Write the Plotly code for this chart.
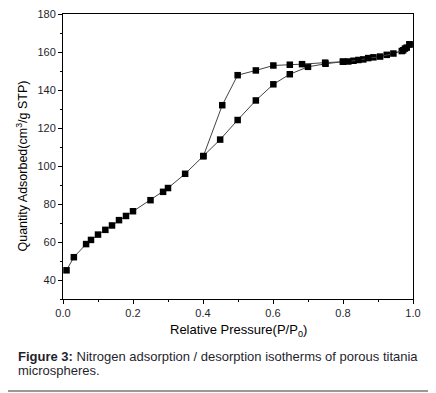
import plotly.graph_objects as go

ads_x = [0.01, 0.031, 0.066, 0.08, 0.1, 0.121, 0.14, 0.16, 0.18, 0.2, 0.25, 0.286, 0.30,
         0.349, 0.401, 0.449, 0.499, 0.551, 0.601, 0.648, 0.70, 0.75, 0.80, 0.83, 0.858,
         0.887, 0.925, 0.968, 0.977, 0.99]
ads_y = [45.1, 52.0, 58.9, 61.1, 63.9, 66.4, 68.7, 71.5, 73.7, 76.2, 82.0, 86.4, 88.4,
         95.9, 105.2, 113.9, 124.2, 134.5, 143.0, 148.3, 152.2, 153.8, 154.9, 155.4, 156.1,
         157.2, 158.5, 160.5, 161.8, 164.0]
des_x = [0.99, 0.982, 0.972, 0.944, 0.906, 0.872, 0.844, 0.815, 0.80, 0.749, 0.683, 0.648,
         0.601, 0.551, 0.499, 0.455, 0.401]
des_y = [164.0, 162.3, 160.9, 159.2, 157.6, 156.8, 155.8, 155.0, 154.9, 154.4, 153.6, 153.3,
         152.9, 150.3, 147.8, 132.0, 105.2]

x_ticks = [0.0, 0.2, 0.4, 0.6, 0.8, 1.0]
x_tick_labels = ["0.0", "0.2", "0.4", "0.6", "0.8", "1.0"]
y_ticks = [40, 60, 80, 100, 120, 140, 160, 180]

FONT = "Liberation Sans, Arial, sans-serif"
TXT = "#1f1f2e"

fig = go.Figure()
for xs, ys in [(ads_x, ads_y), (des_x, des_y)]:
    fig.add_trace(go.Scatter(
        x=xs, y=ys, mode="lines+markers",
        line=dict(color="#444444", width=1),
        marker=dict(symbol="square", size=6.5, color="black"),
        showlegend=False, cliponaxis=False,
    ))

axis_common = dict(
    showline=True, linecolor="black", linewidth=1, mirror=True, automargin=False,
    ticks="outside", ticklen=4, tickcolor="black", showgrid=False, zeroline=False,
    ticklabeloverflow="allow",
    tickfont=dict(family=FONT, size=11, color=TXT),
)
fig.update_xaxes(
    range=[0, 1], tickvals=x_ticks, ticktext=x_tick_labels,
    minor=dict(ticks="outside", ticklen=2, dtick=0.1, tickcolor="black"),
    **axis_common,
)
fig.update_yaxes(
    range=[30, 180], tickvals=y_ticks,
    minor=dict(ticks="outside", ticklen=2, dtick=10, tickcolor="black"),
    **axis_common,
)

fig.add_annotation(
    xref="paper", yref="paper", x=-0.117, y=0.465, xanchor="center", yanchor="middle",
    textangle=-90, showarrow=False,
    text="Quantity Adsorbed(cm<sup>3</sup>/g STP)",
    font=dict(family=FONT, size=12.5, color="black"),
)
fig.add_annotation(
    xref="paper", yref="paper", x=0.5, y=-0.074, xanchor="center", yanchor="top",
    showarrow=False, text="Relative Pressure(P/P<sub>0</sub>)",
    font=dict(family=FONT, size=13, color="black"),
)
fig.add_annotation(
    xref="paper", yref="paper", x=-0.135, y=-0.2, xanchor="left", yanchor="middle",
    align="left", showarrow=False,
    text="<b>Figure 3:</b> Nitrogen adsorption / desorption isotherms of porous titania",
    font=dict(family=FONT, size=13, color=TXT),
)
fig.add_annotation(
    xref="paper", yref="paper", x=-0.135, y=-0.2526, xanchor="left", yanchor="middle",
    align="left", showarrow=False, text="microspheres.",
    font=dict(family=FONT, size=13, color=TXT),
)
fig.add_shape(type="line", xref="paper", yref="paper", x0=-0.18, x1=1.066,
              y0=-0.3228, y1=-0.3228, line=dict(color="#999999", width=2))

fig.update_layout(
    width=428, height=385,
    margin=dict(l=55, r=23, t=6, b=94),
    plot_bgcolor="white", paper_bgcolor="white",
    font=dict(family=FONT),
)
fig.write_html("out.html")
